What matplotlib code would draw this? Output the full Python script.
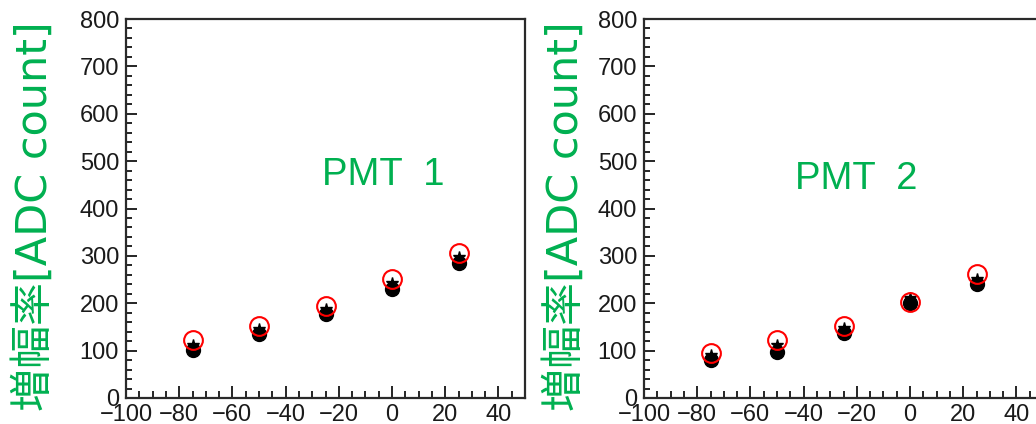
import numpy as np
import matplotlib
matplotlib.use('Agg')
import matplotlib.pyplot as plt
from matplotlib.ticker import MultipleLocator

# x positions of the measurements
x_values = [-75, -50, -25, 0, 25]

# PMT 1
pmt1_circle = [102, 136, 178, 230, 284]
pmt1_star = [112, 145, 188, 242, 297]
pmt1_open = [123, 151, 194, 251, 307]

# PMT 2
pmt2_circle = [80, 98, 137, 201, 240]
pmt2_star = [91, 112, 148, 212, 252]
pmt2_open = [96, 122, 153, 203, 262]

x_ticks = [-100, -80, -60, -40, -20, 0, 20, 40]
y_ticks = [0, 100, 200, 300, 400, 500, 600, 700, 800]
panel_titles = ['PMT  1', 'PMT  2']
y_label = '増幅率[ADC count]'

GREEN = '#00b050'
W, H = 1036, 424

plt.rcParams['font.family'] = ['Liberation Sans', 'DejaVu Sans']

fig = plt.figure(figsize=(W / 100, H / 100), dpi=100)

panels = [
    (126, pmt1_circle, pmt1_star, pmt1_open, panel_titles[0], 35, (322, 185)),
    (644, pmt2_circle, pmt2_star, pmt2_open, panel_titles[1], 566, (795, 189)),
]

for left_px, circ, star, opn, title, label_x, title_pos in panels:
    ax = fig.add_axes([left_px / W, 26 / H, 399 / W, 379 / H])
    ax.set_xlim(-100, 50)
    ax.set_ylim(0, 800)

    ax.plot(x_values, circ, 'o', color='black', markersize=10, zorder=3)
    ax.plot(x_values, star, '*', color='black', markersize=9, zorder=3)
    ax.plot(x_values, opn, 'o', markerfacecolor='none', markeredgecolor='red',
            markeredgewidth=1.5, markersize=13.5, zorder=4)

    ax.set_xticks(x_ticks)
    ax.set_yticks(y_ticks)
    ax.xaxis.set_minor_locator(MultipleLocator(5))
    ax.yaxis.set_minor_locator(MultipleLocator(20))
    ax.tick_params(which='both', direction='in', top=False, right=False,
                   labelsize=17, width=1.2, color='black', labelcolor='#1a1a1a')
    ax.tick_params(axis='y', which='major', length=8, pad=5)
    ax.tick_params(axis='y', which='minor', length=4.3)
    ax.tick_params(axis='x', which='major', length=8.6, pad=4)
    ax.tick_params(axis='x', which='minor', length=5)
    for sp in ax.spines.values():
        sp.set_linewidth(1.6)
        sp.set_color('#2a2a2a')

    fig.text(title_pos[0] / W, 1 - title_pos[1] / H, title, color=GREEN,
             fontsize=27.5, ha='left', va='baseline')
    fig.text(label_x / W, 1 - 216 / H, y_label, color=GREEN, fontsize=31,
             rotation=90, ha='center', va='center',
             family=['DejaVu Sans', 'Noto Sans CJK JP'])

fig.savefig('out.png', dpi=100)
